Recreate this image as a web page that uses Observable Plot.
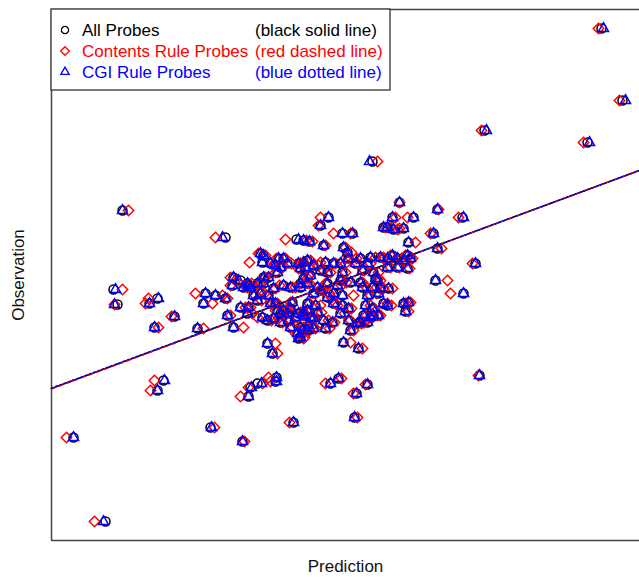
<!DOCTYPE html>
<html><head><meta charset="utf-8">
<script src="https://cdn.jsdelivr.net/npm/d3@7"></script>
<script src="https://cdn.jsdelivr.net/npm/@observablehq/plot@0.6"></script>
<style>
body{margin:0;background:#fff;}
#chart{position:relative;width:639px;height:577px;}
</style>
</head><body><div id="chart"></div>
<script>
// ---- data (arbitrary units) ----
const seriesNames = ["All Probes", "Contents Rule Probes", "CGI Rule Probes"];
const seriesNotes = ["(black solid line)", "(red dashed line)", "(blue dotted line)"];
const seriesColors = ["#000000", "#ff0000", "#0000ff"];
const seriesSymbols = ["circle", "diamond2", "triangle2"];
const seriesDash = [null, "4,4", "1.5,3"];

const observation = [
  2.72, 2.00, 1.70, 1.58, 1.39, 0.98, 0.91, 0.83, 0.90, 0.63,
  0.61, 0.60, 0.59, 0.11, -0.04, 0.02, -0.03, -0.16, -0.27, -1.37,
  -2.21, -0.80, -0.90, -1.27, -1.41, -0.96, -0.87, -0.83, -0.77, -0.81,
  -1.22, -0.83, -0.78, -0.93, -1.17, -0.84, -0.75, 0.37, 0.20, 0.07,
  0.67, 0.58, 0.52, 0.83, 0.72, -0.03, -0.11, 0.32, 0.40, 0.83,
  0.73, 0.71, 0.83, 0.75, 0.67, 0.67, 0.55, 0.53, 0.48, 0.47,
  0.45, 0.38, 0.37, 0.42, 0.42, 0.37, 0.33, 0.35, 0.37, 0.38,
  0.33, 0.23, 0.20, 0.17, 0.13, 0.23, 0.23, 0.28, 0.07, 0.05,
  -0.03, 0.15, 0.13, 0.15, 0.17, -0.15, -0.28, -0.27, -0.13, -0.17,
  -0.20, -0.18, -0.07, -0.07, 0.05, 0.07, 0.05, -0.03, -0.10, -0.10,
  -0.13, -0.08, -0.17, -0.13, -0.12, -0.10, -0.27, -0.33, -0.30, -0.38,
  -0.43, -0.53, 0.17, 0.12, 0.15, 0.13, 0.17, 0.40, 0.35, 0.30,
  0.25, 0.38, 0.28, 0.22, 0.32, 0.37, 0.37, 0.42, 0.37, 0.42,
  0.37, 0.43, 0.43, 0.42, 0.45, 0.42, 0.45, 0.42, 0.33, 0.33,
  0.28, 0.30, 0.28, 0.22, 0.20, 0.18, 0.18, 0.17, 0.13, 0.17,
  0.15, 0.13, 0.13, 0.12, 0.12, 0.05, 0.05, 0.07, -0.03, -0.05,
  -0.03, -0.05, -0.08, -0.05, -0.08, -0.03, -0.15, -0.18, -0.20, -0.22,
  -0.15, -0.15, -0.22, -0.22, -0.30, -0.28, -0.30, -0.42, -0.48, -0.37,
  0.00, -0.03, -0.02, 0.13, 0.07, 0.10, 0.03, 0.07,
  0.20, -0.13, -0.20, -0.17, -0.12, -0.13, -0.20, -0.23, -0.17, -0.15, -0.05,
  -0.02, -0.22, -0.27, -0.25, -0.28, 0.02,
  0.73
];

const predAll = [
  2.61, 2.82, 1.44, 2.47, 0.32, 0.59, 0.97, 1.22, -2.18, -1.15,
  -0.44, -0.37, -0.31, -2.27, -2.23, -1.83, -1.91, -1.66, -1.86, -2.67,
  -2.35, -1.77, -1.83, -1.30, -0.98, -0.92, -0.90, -0.83, -0.64, -0.65,
  -0.47, -0.10, -0.02, 0.16, 0.14, 0.27, 1.39, 1.35, 0.95, 1.23,
  0.93, 0.68, 0.97, 0.73, 0.63, 0.63, 0.65, 0.67, 0.63, 0.52,
  0.47, 0.53, -0.12, -0.20, 0.02, 0.12, -0.17, 0.03, 0.07, -0.80,
  -0.77, -0.78, -0.70, -0.62, -0.57, -0.53, -0.60, -0.65, -0.42, -0.37,
  -0.35, -1.07, -1.00, -0.93, -0.90, -0.77, -0.72, -0.63, -1.35, -1.25,
  -1.37, -1.08, -0.97, -0.92, -0.83, -1.13, -1.43, -1.07, -0.93, -0.78,
  -0.73, -0.67, -1.00, -0.92, -0.87, -0.80, -0.72, -0.70, -0.63, -0.57,
  -0.53, -0.50, -0.45, -0.42, -0.37, -0.33, -0.50, -0.43, -0.38, -0.42,
  -0.73, -0.68, -0.77, -0.67, -0.57, -0.50, -0.40, -0.33, -0.27, -0.20,
  -0.30, -0.15, -0.13, -0.37, -0.40, -0.07, 0.00, 0.08, 0.15, 0.20,
  0.27, 0.30, 0.40, 0.47, 0.52, 0.57, 0.67, 0.70, 0.47, 0.57,
  0.02, 0.22, 0.33, 0.35, 0.00, 0.10, 0.20, -0.33, -0.23, -0.13,
  -0.03, 0.22, 0.32, 0.40, 0.48, 0.02, 0.27, 0.38, -0.33, -0.25,
  -0.07, 0.02, 0.08, 0.25, 0.32, 0.43, -0.37, -0.27, -0.17, -0.08,
  0.23, 0.33, 0.20, 0.27, 0.10, -0.15, -0.33, 0.03, 0.18, -0.40,
  -0.83, -0.65, -0.48, -0.40, -0.27, -0.20, -0.13, -0.07,
  0.37, -0.60, -0.52, -0.30, -0.23, 0.00, 0.08, 0.17, 0.30, 0.38, 0.47,
  0.68, -0.60, -0.40, -0.32, -0.27, -1.15,
  0.43
];

const predContents = [
  2.58, 2.79, 1.41, 2.43, 0.37, 0.59, 0.98, 1.18, -2.12, -1.25,
  -0.55, -0.34, -0.28, -2.18, -2.26, -1.92, -1.95, -1.69, -1.82, -2.74,
  -2.46, -1.86, -1.90, -1.26, -0.96, -1.00, -0.92, -0.78, -0.72, -0.70,
  -0.51, -0.15, 0.01, 0.13, 0.17, 0.25, 1.38, 1.32, 1.07, 1.10,
  0.90, 0.75, 1.01, 0.67, 0.59, 0.65, 0.68, 0.69, 0.65, 0.55,
  0.50, 0.57, -0.20, -0.22, -0.07, 0.10, -0.15, 0.05, 0.11, -0.82,
  -0.75, -0.91, -0.66, -0.64, -0.55, -0.49, -0.58, -0.67, -0.40, -0.37,
  -0.32, -1.10, -1.05, -0.89, -0.88, -0.75, -0.76, -0.65, -1.45, -1.18,
  -1.28, -1.10, -0.93, -0.96, -0.79, -1.10, -1.37, -0.97, -0.88, -0.83,
  -0.69, -0.62, -0.95, -0.90, -0.85, -0.76, -0.74, -0.68, -0.65, -0.55,
  -0.50, -0.52, -0.43, -0.38, -0.40, -0.31, -0.48, -0.45, -0.35, -0.37,
  -0.65, -0.63, -0.81, -0.65, -0.61, -0.48, -0.35, -0.30, -0.22, -0.17,
  -0.32, -0.20, -0.10, -0.33, -0.42, -0.05, 0.05, 0.05, 0.17, 0.16,
  0.30, 0.35, 0.43, 0.43, 0.50, 0.61, 0.65, 0.72, 0.50, 0.59,
  0.05, 0.24, 0.38, 0.38, 0.02, 0.06, 0.22, -0.31, -0.18, -0.15,
  0.01, 0.26, 0.36, 0.43, 0.52, 0.13, 0.30, 0.36, -0.31, -0.20,
  -0.05, -0.03, 0.11, 0.30, 0.34, 0.47, -0.34, -0.31, -0.12, -0.06,
  0.26, 0.37, 0.24, 0.23, 0.13, -0.11, -0.31, 0.10, 0.22, -0.36,
  -0.79, -0.63, -0.50, -0.45, -0.25, -0.18, -0.09, -0.11,
  0.40, -0.58, -0.50, -0.27, -0.19, 0.04, 0.10, 0.21, 0.32, 0.40, 0.51,
  0.70, -0.58, -0.37, -0.28, -0.25, -1.13,
  0.45
];

const predCGI = [
  2.63, 2.85, 1.46, 2.49, 0.29, 0.59, 0.97, 1.23, -2.18, -1.18,
  -0.42, -0.37, -0.31, -2.25, -2.26, -1.82, -1.91, -1.66, -1.86, -2.67,
  -2.37, -1.76, -1.83, -1.29, -0.98, -0.92, -0.89, -0.79, -0.64, -0.64,
  -0.47, -0.10, -0.02, 0.16, 0.14, 0.27, 1.39, 1.35, 0.95, 1.23,
  0.93, 0.68, 0.97, 0.73, 0.63, 0.63, 0.65, 0.67, 0.63, 0.52,
  0.47, 0.53, -0.12, -0.20, 0.02, 0.12, -0.17, 0.03, 0.07, -0.80,
  -0.77, -0.78, -0.70, -0.62, -0.57, -0.53, -0.60, -0.65, -0.42, -0.37,
  -0.35, -1.07, -1.02, -0.93, -0.90, -0.77, -0.72, -0.63, -1.35, -1.25,
  -1.37, -1.08, -0.97, -0.92, -0.83, -1.13, -1.43, -1.07, -0.93, -0.78,
  -0.73, -0.67, -1.00, -0.92, -0.87, -0.80, -0.72, -0.70, -0.63, -0.57,
  -0.53, -0.50, -0.45, -0.42, -0.37, -0.33, -0.50, -0.43, -0.38, -0.42,
  -0.73, -0.68, -0.77, -0.67, -0.57, -0.50, -0.40, -0.33, -0.27, -0.20,
  -0.30, -0.15, -0.13, -0.37, -0.40, -0.07, 0.00, 0.08, 0.15, 0.20,
  0.27, 0.30, 0.40, 0.47, 0.52, 0.57, 0.67, 0.70, 0.47, 0.57,
  0.02, 0.22, 0.33, 0.35, 0.00, 0.10, 0.20, -0.33, -0.23, -0.13,
  -0.03, 0.22, 0.32, 0.40, 0.48, 0.02, 0.27, 0.38, -0.33, -0.25,
  -0.07, 0.02, 0.08, 0.25, 0.32, 0.43, -0.37, -0.27, -0.17, -0.08,
  0.23, 0.33, 0.20, 0.27, 0.10, -0.15, -0.33, 0.03, 0.18, -0.40,
  -0.83, -0.65, -0.48, -0.40, -0.27, -0.20, -0.13, -0.07,
  0.37, -0.60, -0.52, -0.30, -0.23, 0.00, 0.08, 0.17, 0.30, 0.38, 0.47,
  0.68, -0.60, -0.40, -0.32, -0.27, -1.15,
  0.43
];

// fitted regression lines (intercept, slope) per series
const fitIntercept = [0.192, 0.190, 0.194];
const fitSlope = [0.371, 0.372, 0.370];

// plotting range
const xDomain = [-2.89, 2.99];
const yDomain = [-2.40, 2.91];

// ---- build tables ----
const preds = [predAll, predContents, predCGI];
const pointSets = preds.map((p, s) => p.map((x, i) => ({series: seriesNames[s], x, y: observation[i]})));
const lineSets = fitIntercept.map((a, s) => xDomain.map(x => ({series: seriesNames[s], x, y: a + fitSlope[s] * x})));

const font = "'Liberation Sans', Arial, Helvetica, sans-serif";

const marks = [];
// frame (left, top, bottom; right edge is cut off in the original)
marks.push(Plot.ruleX([xDomain[0]], {stroke: "#444", strokeWidth: 1.5}));
marks.push(Plot.ruleY(yDomain, {stroke: "#444", strokeWidth: 1.5}));
// points
const radii = [4.5, 4.7, 4.8];
pointSets.forEach((data, s) => {
  marks.push(Plot.dot(data, {x: "x", y: "y", symbol: () => seriesSymbols[s], r: radii[s],
    stroke: seriesColors[s], fill: "none", strokeWidth: 1.5}));
});
// regression lines
lineSets.forEach((data, s) => {
  marks.push(Plot.line(data, {x: "x", y: "y", stroke: seriesColors[s], strokeWidth: s === 0 ? 1.7 : 1.4,
    strokeDasharray: seriesDash[s] ?? undefined}));
});
// axis titles
marks.push(Plot.text(["Prediction"], {text: d => d, frameAnchor: "bottom", lineAnchor: "middle",
  textAnchor: "middle", dy: 26, fontSize: 17, fill: "#111"}));
marks.push(Plot.text(["Observation"], {text: d => d, frameAnchor: "left", lineAnchor: "middle",
  textAnchor: "middle", rotate: -90, dx: -33, fontSize: 17, fill: "#111"}));

const chart = Plot.plot({
  width: 639,
  height: 577,
  marginLeft: 51,
  marginRight: 0,
  marginTop: 9,
  marginBottom: 37,
  x: {domain: xDomain, axis: null},
  y: {domain: yDomain, axis: null},
  symbol: {type: "identity"},
  style: {fontFamily: font, background: "#fff", overflow: "visible"},
  marks
});

// legend box (top-left, inside the plotting frame)
const svg = d3.select(chart);
const lg = svg.append("g").attr("font-family", font).attr("font-size", 17).attr("text-anchor", "start");
lg.append("rect").attr("x", 51).attr("y", 9).attr("width", 339).attr("height", 81)
  .attr("fill", "#fff").attr("stroke", "#333").attr("stroke-width", 1.3);
const rowY = [30, 51, 72];
const symPaths = [d3.symbolCircle, d3.symbolDiamond2, d3.symbolTriangle2];
const symSizes = [Math.PI * 3.6 * 3.6, Math.PI * 3.9 * 3.9, Math.PI * 4.0 * 4.0];
seriesNames.forEach((name, s) => {
  lg.append("path").attr("d", d3.symbol(symPaths[s], symSizes[s])())
    .attr("transform", `translate(65,${rowY[s]})`)
    .attr("fill", "none").attr("stroke", seriesColors[s]).attr("stroke-width", 1.3);
  lg.append("text").attr("x", 82).attr("y", rowY[s]).attr("dy", "0.35em")
    .attr("fill", seriesColors[s]).text(name);
  lg.append("text").attr("x", 255).attr("y", rowY[s]).attr("dy", "0.35em")
    .attr("fill", seriesColors[s]).text(seriesNotes[s]);
});

document.getElementById("chart").append(chart);
</script>
</body></html>
